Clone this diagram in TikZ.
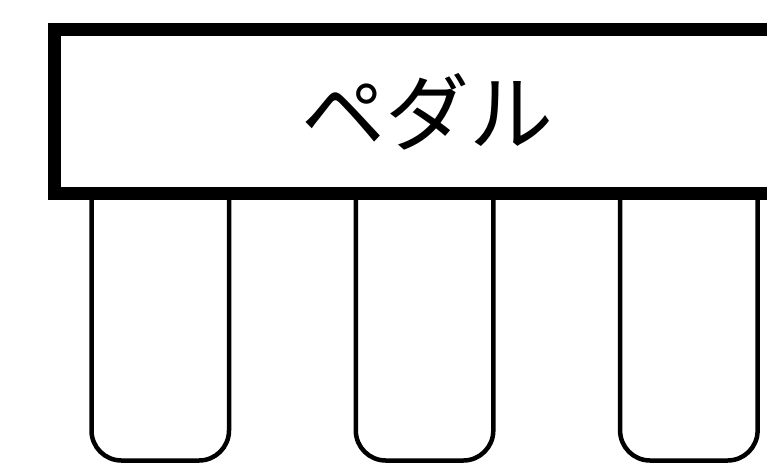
\documentclass[tikz,border=0pt]{standalone}
\usepackage{fontspec}
\newfontfamily\jpfont{Noto Sans CJK JP}
\usetikzlibrary{positioning}

\begin{document}
\begin{tikzpicture}[
  x=1pt, y=-1pt,
  bar/.style={rectangle, draw=black, line width=13pt, fill=white, minimum width=746pt, minimum height=164.7pt, inner sep=0pt, font=\jpfont\fontsize{84}{100}\selectfont},
  pedalline/.style={draw=black, line width=4.5pt, rounded corners=30pt}
]
  \useasboundingbox (0,0) rectangle (767,467);
  \clip (0,0) rectangle (767,467);
  % pedals
  \foreach \i in {0,1,2} {
    \draw[pedalline] (91.5+264.3*\i,190) -- (91.5+264.3*\i,460.5) -- (229+264.3*\i,460.5) -- (229+264.3*\i,190);
  }
  % bar on top
  \node[bar] (bar) at (427,111.4) {ペダル};
\end{tikzpicture}
\end{document}
